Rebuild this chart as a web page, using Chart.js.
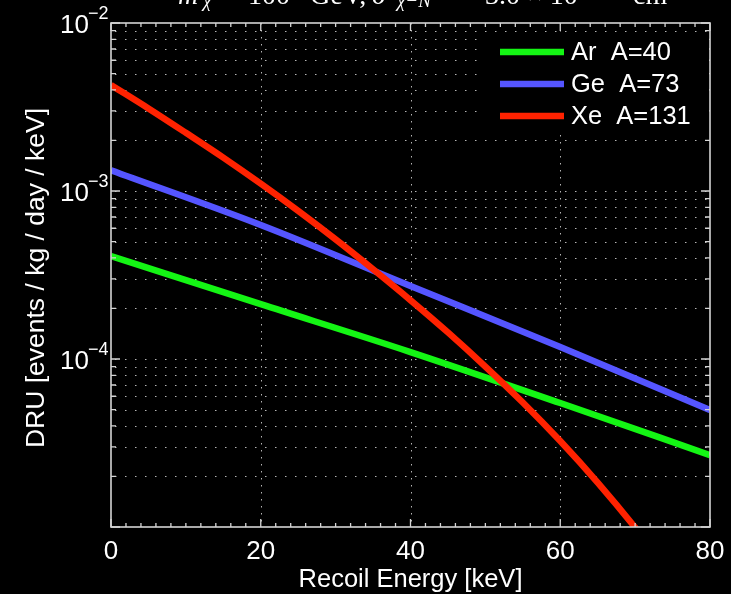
<!DOCTYPE html>
<html><head><meta charset="utf-8">
<script src="https://cdn.jsdelivr.net/npm/chart.js@4.4.0/dist/chart.umd.min.js"></script>
<style>html,body{margin:0;padding:0;background:#000;overflow:hidden}canvas{display:block}</style>
</head><body>
<canvas id="c" width="731" height="594"></canvas>
<script>
// ---- data ----
const arEnergy = [0, 20, 40, 60, 80];
const arRate   = [4.10e-4, 2.12e-4, 1.10e-4, 5.47e-5, 2.68e-5];
const geEnergy = [0, 20, 40, 60, 80];
const geRate   = [1.33e-3, 6.28e-4, 2.72e-4, 1.18e-4, 4.97e-5];
const xeEnergy = [0, 5, 10, 15, 20, 25, 30, 35, 40, 45, 50, 55, 60, 65, 70, 75];
const xeRate   = [4.27e-3, 3.10e-3, 2.22e-3, 1.58e-3, 1.105e-3, 7.61e-4, 5.15e-4, 3.42e-4,
                  2.24e-4, 1.44e-4, 9.02e-5, 5.51e-5, 3.25e-5, 1.84e-5, 9.93e-6, 5.07e-6];
const seriesLabels = ['Ar  A=40', 'Ge  A=73', 'Xe  A=131'];
const xTickLabels = [0, 20, 40, 60, 80];
const yLabelExponents = [-2, -3, -4];
const xAxisTitle = 'Recoil Energy [keV]';
const yAxisTitle = 'DRU [events / kg / day / keV]';

const toXY = (xs, ys) => xs.map((e, i) => ({x: e, y: ys[i]}));

// minor/major positions for the log axis
const yGridValues = [];
for (let d = -5; d <= -3; d++) for (let m = 1; m <= 9; m++) yGridValues.push(m * Math.pow(10, d));

const SANS = '"Liberation Sans", Arial, sans-serif';

const frame = {
  id: 'frame',
  beforeDraw(chart) {
    const ctx = chart.ctx;
    ctx.save(); ctx.fillStyle = '#000'; ctx.fillRect(0, 0, chart.width, chart.height); ctx.restore();
  },
  beforeDatasetsDraw(chart) {
    const {ctx, chartArea: a, scales: {x, y}} = chart;
    ctx.save();
    ctx.strokeStyle = 'rgba(225,225,225,0.8)';
    ctx.lineWidth = 1;
    ctx.setLineDash([1.5, 8.5]);
    yGridValues.forEach(v => {
      if (v <= y.min || v >= y.max) return;
      const py = Math.round(y.getPixelForValue(v)) + 0.5;
      ctx.beginPath(); ctx.moveTo(a.left + 4, py); ctx.lineTo(a.right, py); ctx.stroke();
    });
    ctx.setLineDash([1.5, 5.5]);
    xTickLabels.forEach(v => {
      if (v <= x.min || v >= x.max) return;
      const px = Math.round(x.getPixelForValue(v)) + 0.5;
      ctx.beginPath(); ctx.moveTo(px, a.top); ctx.lineTo(px, a.bottom); ctx.stroke();
    });
    ctx.restore();
  },
  afterDatasetsDraw(chart) {
    const {ctx, chartArea: a, scales: {x, y}} = chart;
    ctx.save();
    // frame box
    ctx.strokeStyle = '#d4d4d4';
    ctx.lineWidth = 1.6;
    ctx.strokeRect(a.left, a.top, a.right - a.left, a.bottom - a.top);
    ctx.lineWidth = 1.3;
    // x ticks (every 2 keV, majors every 20)
    for (let v = x.min; v <= x.max + 1e-9; v += 2) {
      const px = x.getPixelForValue(v);
      const len = (v % 20 === 0) ? 8 : 4;
      ctx.beginPath();
      ctx.moveTo(px, a.bottom); ctx.lineTo(px, a.bottom - len);
      ctx.moveTo(px, a.top); ctx.lineTo(px, a.top + len);
      ctx.stroke();
    }
    // y ticks
    yGridValues.concat([1e-2]).forEach(v => {
      const py = y.getPixelForValue(v);
      const major = Math.abs(Math.log10(v) - Math.round(Math.log10(v))) < 1e-9;
      const len = major ? 9 : 5;
      ctx.beginPath();
      ctx.moveTo(a.left, py); ctx.lineTo(a.left + len, py);
      ctx.moveTo(a.right, py); ctx.lineTo(a.right - len, py);
      ctx.stroke();
    });
    // x tick labels
    ctx.fillStyle = '#fff';
    ctx.font = '26px ' + SANS;
    ctx.textAlign = 'center'; ctx.textBaseline = 'alphabetic';
    xTickLabels.forEach(v => ctx.fillText(String(v), x.getPixelForValue(v), 559));
    // y tick labels 10^n
    yLabelExponents.forEach(e => {
      const py = y.getPixelForValue(Math.pow(10, e));
      ctx.font = '26px ' + SANS;
      ctx.textAlign = 'right';
      ctx.fillText('10', 89, py + 10);
      ctx.font = '18px ' + SANS;
      ctx.textAlign = 'left';
      ctx.fillText('\u2212' + Math.abs(e), 88, py - 4);
    });
    // axis titles
    ctx.font = '25.5px ' + SANS;
    ctx.textAlign = 'center';
    ctx.fillText(xAxisTitle, (a.left + a.right) / 2, 587);
    ctx.save();
    ctx.translate(44, (a.top + a.bottom) / 2 + 3);
    ctx.rotate(-Math.PI / 2);
    ctx.font = '26.5px ' + SANS;
    ctx.fillText(yAxisTitle, 0, 0);
    ctx.restore();
    // legend (black box over grid)
    ctx.fillStyle = '#000';
    ctx.fillRect(482, 33, a.right - 483, 101);
    const rows = [52, 84, 116];
    chart.data.datasets.forEach((ds, i) => {
      ctx.strokeStyle = ds.borderColor;
      ctx.lineWidth = 6.5;
      ctx.setLineDash([]);
      ctx.beginPath(); ctx.moveTo(500, rows[i]); ctx.lineTo(564, rows[i]); ctx.stroke();
      ctx.fillStyle = '#fff';
      ctx.font = '25.5px ' + SANS;
      ctx.textAlign = 'left'; ctx.textBaseline = 'middle';
      ctx.fillText(ds.label, 571, rows[i] + 1);
    });
    // title (top clipped by page edge)
    ctx.textBaseline = 'alphabetic';
    ctx.textAlign = 'left';
    const serif = '"Liberation Serif", "Times New Roman", serif';
    const pieces = [
      {t: 'm', x: 178, f: 'italic 28px ' + serif, b: 4},
      {t: '\u03c7', x: 203, f: 'italic 19px ' + serif, b: 7},
      {t: '=', x: 224, f: '28px ' + serif, b: 4},
      {t: '100', x: 248, f: '28px ' + serif, b: 4},
      {t: 'GeV,', x: 310, f: '28px ' + serif, b: 4},
      {t: '\u03c3', x: 372, f: 'italic 28px ' + serif, b: 4},
      {t: '\u03c7\u2212N', x: 397, f: 'italic 19px ' + serif, b: 7},
      {t: '=', x: 458, f: '28px ' + serif, b: 4},
      {t: '3.0 \u00d7 10', x: 485, f: '28px ' + serif, b: 4},
      {t: '\u221244', x: 588, f: '19px ' + serif, b: -8},
      {t: 'cm', x: 633, f: '28px ' + serif, b: 4},
      {t: '2', x: 668, f: '19px ' + serif, b: -8}
    ];
    ctx.fillStyle = '#fff';
    pieces.forEach(p => { ctx.font = p.f; ctx.fillText(p.t, p.x, p.b); });
    ctx.restore();
  }
};

new Chart(document.getElementById('c'), {
  type: 'line',
  data: {
    datasets: [
      {label: seriesLabels[0], data: toXY(arEnergy, arRate), borderColor: 'rgb(20,245,20)', order: 3},
      {label: seriesLabels[1], data: toXY(geEnergy, geRate), borderColor: 'rgb(85,85,255)', order: 2},
      {label: seriesLabels[2], data: toXY(xeEnergy, xeRate), borderColor: 'rgb(255,34,0)', order: 1}
    ]
  },
  options: {
    responsive: false,
    animation: false,
    layout: {padding: {left: 111, top: 23, right: 21, bottom: 67}},
    elements: {
      line: {borderWidth: 6.5, cubicInterpolationMode: 'monotone', fill: false, borderCapStyle: 'butt'},
      point: {radius: 0, hoverRadius: 0}
    },
    scales: {
      x: {type: 'linear', min: 0, max: 80, display: false},
      y: {type: 'logarithmic', min: 1e-5, max: 1e-2, display: false}
    },
    plugins: {legend: {display: false}, tooltip: {enabled: false}, title: {display: false}}
  },
  plugins: [frame]
});
</script>
</body></html>
